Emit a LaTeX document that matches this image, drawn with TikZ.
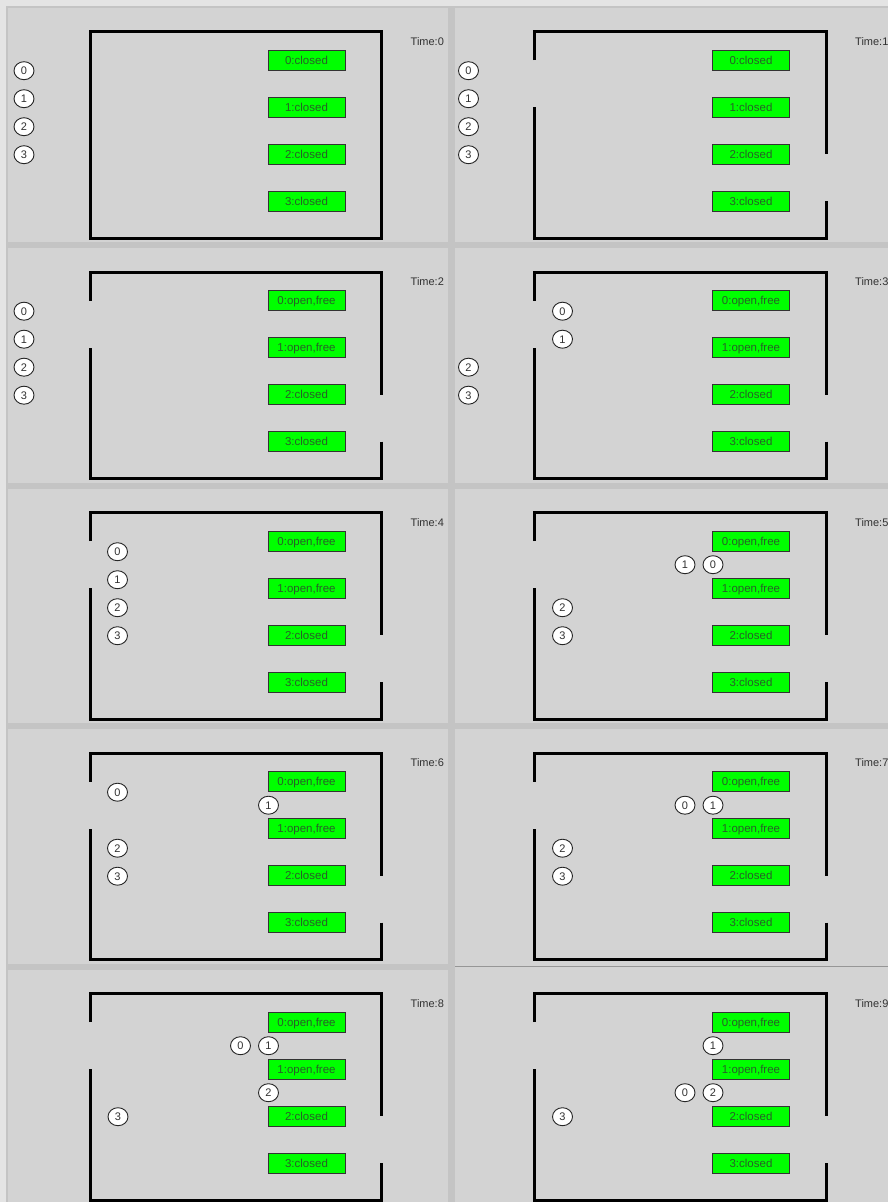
\documentclass[tikz,border=0pt]{standalone}
\usepackage{fontspec}
\setmainfont{Liberation Sans}
\usepackage{xcolor}
\definecolor{bankouter}{RGB}{228,228,228}
\definecolor{banksep}{RGB}{196,196,196}
\definecolor{bankpanel}{RGB}{211,211,211}
\definecolor{bankline}{RGB}{150,150,150}
\definecolor{wingreen}{RGB}{0,255,0}
\definecolor{wintext}{RGB}{40,96,40}
\definecolor{labelgrey}{RGB}{50,50,50}
\usepackage{tikz}
\usetikzlibrary{shapes.geometric}

\tikzset{
  wall/.style={line width=3pt, black},
  window/.style={draw=black!80, fill=wingreen, text=wintext, line width=0.9pt,
                 minimum width=77pt, minimum height=20pt, inner sep=0pt,
                 text height=8.2pt, text depth=0pt,
                 font=\fontsize{11.5}{13}\selectfont},
  customer/.style={ellipse, draw=black!85, fill=white, text=labelgrey, line width=0.9pt,
                   minimum width=20pt, minimum height=18pt, inner sep=0pt,
                   text height=8pt, text depth=0pt,
                   font=\fontsize{11}{13}\selectfont},
  clock/.style={anchor=west, inner sep=0pt, text=labelgrey,
                font=\fontsize{11}{13}\selectfont}
}

% #1 time, #2 column, #3 row, #4 state of windows 0 and 1, #5 customers n/x/y
\newcommand{\roompanel}[5]{%
\begin{scope}[shift={(#2*444.5,#3*240.5)}]
  \ifnum#1=0
    \draw[wall] (90,31.7) rectangle (381.7,238.3);
  \else
    \draw[wall] (90,60) |- (381.7,31.7) -- (381.7,154);
    \draw[wall] (381.7,201) |- (90,238.3) -- (90,107);
  \fi
  \node[clock] (t#1) at (410.5,41.5) {Time:#1};
  \node[window] (p#1w0) at (306.5,60) {0:#4};
  \node[window] (p#1w1) at (306.5,107) {1:#4};
  \node[window] (p#1w2) at (306.5,154) {2:closed};
  \node[window] (p#1w3) at (306.5,201) {3:closed};
  \foreach \n/\cx/\cy in {#5}
    \node[customer] (p#1c\n) at (\cx,\cy) {\n};
\end{scope}}

\begin{document}
\begin{tikzpicture}[x=1pt, y=-1pt]
\useasboundingbox (0,0) rectangle (888,1202);
% background and panel frames
\fill[bankouter] (0,0) rectangle (888,1202);
\fill[banksep] (6,6) rectangle (888,1202);
\foreach \c in {0,1}
  \foreach \r in {0,...,4}
    \fill[bankpanel] ({8+447*\c},{7.5+240.5*\r}) rectangle ({448+440*\c},{242+240.5*\r});
\fill[bankpanel] (455,963) rectangle (888,970);
\draw[bankline, line width=1.5pt] (455,966.5) -- (888,966.5);

% the ten time steps
\roompanel{0}{0}{0}{closed}{0/24/70.7, 1/24/98.7, 2/24/126.7, 3/24/154.7}
\roompanel{1}{1}{0}{closed}{0/24/70.7, 1/24/98.7, 2/24/126.7, 3/24/154.7}
\roompanel{2}{0}{1}{open,free}{0/24/70.7, 1/24/98.7, 2/24/126.7, 3/24/154.7}
\roompanel{3}{1}{1}{open,free}{0/118/70.7, 1/118/98.7, 2/24/126.7, 3/24/154.7}
\roompanel{4}{0}{2}{open,free}{0/117.5/70.7, 1/117.5/98.7, 2/117.5/126.7, 3/117.5/154.7}
\roompanel{5}{1}{2}{open,free}{1/240.5/83.7, 0/268.5/83.7, 2/118/126.7, 3/118/154.7}
\roompanel{6}{0}{3}{open,free}{0/117.5/70.7, 1/268.5/83.7, 2/117.5/126.7, 3/117.5/154.7}
\roompanel{7}{1}{3}{open,free}{0/240.5/83.7, 1/268.5/83.7, 2/118/126.7, 3/118/154.7}
\roompanel{8}{0}{4}{open,free}{0/240.5/83.7, 1/268.5/83.7, 2/268.5/130.7, 3/118/154.7}
\roompanel{9}{1}{4}{open,free}{1/268.5/83.7, 0/240.5/130.7, 2/268.5/130.7, 3/118/154.7}
\end{tikzpicture}
\end{document}
